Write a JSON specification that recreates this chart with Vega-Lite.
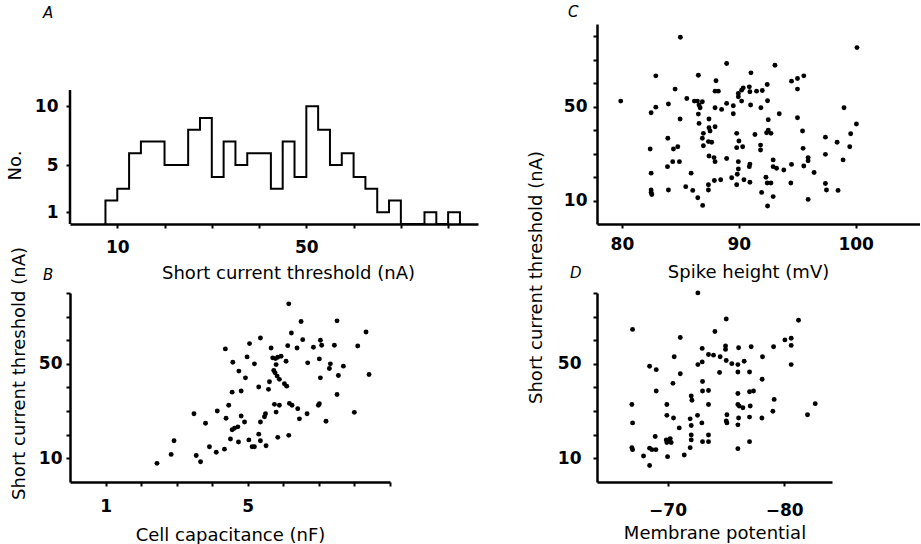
{
"$schema":"https://vega.github.io/schema/vega-lite/v6.json",
"background":"white",
"padding":{"left":6,"top":5,"right":0,"bottom":0},
"config":{
 "view":{"stroke":null},
 "font":"DejaVu Sans",
 "axis":{"domainColor":"black","domainWidth":2.5,"tickColor":"black","tickWidth":2,"tickSize":4,"labelColor":"black","labelFont":"DejaVu Sans","labelFontSize":17,"labelFontWeight":"bold","titleColor":"black","titleFont":"DejaVu Sans","titleFontSize":18,"titleFontWeight":"normal","grid":false,"labelOverlap":false,"labelFlush":false},
 "title":{"font":"DejaVu Sans","fontSize":15,"fontStyle":"italic","fontWeight":"normal","color":"black","anchor":"start","frame":"group","baseline":"alphabetic"}
},
"datasets":{
 "hist":[
  {"i":0,"edge":9.043,"count":0},{"i":1,"edge":9.043,"count":2},{"i":2,"edge":10,"count":3},{"i":3,"edge":11.058,"count":6},
  {"i":4,"edge":12.228,"count":7},{"i":5,"edge":14.953,"count":5},{"i":6,"edge":18.285,"count":8},{"i":7,"edge":20.22,"count":9},
  {"i":8,"edge":22.361,"count":4},{"i":9,"edge":24.727,"count":7},{"i":10,"edge":27.344,"count":5},{"i":11,"edge":30.238,"count":6},
  {"i":12,"edge":36.976,"count":3},{"i":13,"edge":40.889,"count":7},{"i":14,"edge":45.216,"count":4},{"i":15,"edge":50,"count":10},
  {"i":16,"edge":55.29,"count":8},{"i":17,"edge":61.14,"count":5},{"i":18,"edge":67.61,"count":6},{"i":19,"edge":74.77,"count":4},
  {"i":20,"edge":82.68,"count":3},{"i":21,"edge":91.43,"count":1},{"i":22,"edge":101.1,"count":2},{"i":23,"edge":111.8,"count":0},
  {"i":24,"edge":136.7,"count":1},{"i":25,"edge":151.2,"count":0},{"i":26,"edge":167.2,"count":1},{"i":27,"edge":184.9,"count":0}
 ],
 "c":[
  {"spike":79.9,"thr":55.1},{"spike":85.0,"thr":164.9},{"spike":82.9,"thr":85.0},{"spike":86.54,"thr":86.0},{"spike":88.96,"thr":105},
  {"spike":91.04,"thr":89.5},{"spike":88.05,"thr":78.1},{"spike":84.55,"thr":67.7},{"spike":85.55,"thr":57.7},{"spike":83.98,"thr":52.4},
  {"spike":82.5,"thr":45.1},{"spike":82.9,"thr":49.7},{"spike":86.2,"thr":55.1},{"spike":86.46,"thr":55.1},{"spike":86.88,"thr":54.5},
  {"spike":86.6,"thr":51.5},{"spike":86.69,"thr":49.2},{"spike":87.97,"thr":65.4},{"spike":88.25,"thr":65.4},{"spike":89.96,"thr":62.9},
  {"spike":90.24,"thr":66.5},{"spike":90.38,"thr":69.2},{"spike":89.96,"thr":59.4},{"spike":90.24,"thr":55.1},{"spike":90.9,"thr":70.4},
  {"spike":90.95,"thr":64.7},{"spike":91.52,"thr":65.4},{"spike":88.96,"thr":53.0},{"spike":88.53,"thr":47.8},{"spike":87.97,"thr":49.2},
  {"spike":89.53,"thr":50.9},{"spike":89.53,"thr":44.4},{"spike":91.01,"thr":51.5},{"spike":84.98,"thr":40.5},{"spike":86.54,"thr":44.1},
  {"spike":86.6,"thr":37.6},{"spike":87.45,"thr":40.5},{"spike":87.45,"thr":34.9},{"spike":87.54,"thr":33.0},{"spike":87.97,"thr":35.5},
  {"spike":86.97,"thr":31.7},{"spike":86.88,"thr":29.1},{"spike":86.97,"thr":25.6},{"spike":87.4,"thr":27.5},{"spike":87.68,"thr":27.2},
  {"spike":87.45,"thr":21.5},{"spike":87.88,"thr":20.9},{"spike":87.97,"thr":19.5},{"spike":88.96,"thr":20.6},{"spike":89.82,"thr":31.7},
  {"spike":90.01,"thr":27.8},{"spike":89.82,"thr":24.8},{"spike":90.33,"thr":25.2},{"spike":91.38,"thr":31.1},{"spike":82.42,"thr":24.2},
  {"spike":83.93,"thr":29.1},{"spike":84.41,"thr":24.2},{"spike":84.78,"thr":25.2},{"spike":84.35,"thr":19.5},{"spike":84.92,"thr":19.5},
  {"spike":83.9,"thr":17.9},{"spike":82.5,"thr":16.0},{"spike":85.92,"thr":16.0},{"spike":89.96,"thr":19.5},{"spike":89.96,"thr":17.2},
  {"spike":89.87,"thr":15.7},{"spike":89.82,"thr":13.1},{"spike":90.95,"thr":18.7},{"spike":90.9,"thr":17.9},{"spike":89.39,"thr":14.8},
  {"spike":90.44,"thr":14.3},{"spike":90.95,"thr":13.7},{"spike":87.91,"thr":14.1},{"spike":88.45,"thr":14.3},{"spike":87.4,"thr":13.1},
  {"spike":87.4,"thr":12.0},{"spike":85.46,"thr":12.7},{"spike":86.06,"thr":11.9},{"spike":86.49,"thr":10.5},{"spike":86.91,"thr":9.2},
  {"spike":82.5,"thr":12.0},{"spike":82.5,"thr":11.5},{"spike":82.56,"thr":11.1},{"spike":83.98,"thr":12.0},{"spike":100.11,"thr":138},
  {"spike":93.09,"thr":102},{"spike":94.51,"thr":77.6},{"spike":95.02,"thr":81.3},{"spike":95.56,"thr":85.0},{"spike":95.02,"thr":67.7},
  {"spike":92.43,"thr":73.3},{"spike":92.01,"thr":66.1},{"spike":92.46,"thr":55.4},{"spike":91.89,"thr":49.2},{"spike":93.46,"thr":44.4},
  {"spike":92.52,"thr":40.0},{"spike":92.52,"thr":33.5},{"spike":92.38,"thr":32.0},{"spike":92.75,"thr":31.7},{"spike":95.02,"thr":41.4},
  {"spike":95.45,"thr":33.0},{"spike":99.0,"thr":49.2},{"spike":100.06,"thr":37.2},{"spike":99.57,"thr":31.5},{"spike":97.41,"thr":29.7},
  {"spike":98.41,"thr":27.2},{"spike":99.49,"thr":25.2},{"spike":91.86,"thr":25.9},{"spike":91.86,"thr":23.8},{"spike":92.94,"thr":20.1},
  {"spike":92.94,"thr":17.9},{"spike":93.23,"thr":17.4},{"spike":93.85,"thr":16.9},{"spike":94.51,"thr":18.6},{"spike":95.5,"thr":24.5},
  {"spike":95.93,"thr":20.9},{"spike":95.93,"thr":19.8},{"spike":95.56,"thr":18.1},{"spike":96.44,"thr":16.2},{"spike":97.41,"thr":22.1},
  {"spike":98.92,"thr":20.1},{"spike":92.32,"thr":14.9},{"spike":92.43,"thr":13.5},{"spike":92.75,"thr":13.5},{"spike":94.45,"thr":13.5},
  {"spike":97.41,"thr":13.4},{"spike":97.5,"thr":12.0},{"spike":98.49,"thr":11.9},{"spike":91.95,"thr":11.5},{"spike":92.94,"thr":10.7},
  {"spike":95.93,"thr":10.2},{"spike":92.46,"thr":9.1}
 ],
 "b":[
  {"cap":7.95,"thr":139},{"cap":9.14,"thr":103},{"cap":13.73,"thr":104},{"cap":19.06,"thr":86.0},{"cap":8.19,"thr":84.6},
  {"cap":5.77,"thr":77.7},{"cap":9.31,"thr":75.5},{"cap":11.37,"thr":74.7},{"cap":11.54,"thr":68.6},{"cap":3.88,"thr":64.5},
  {"cap":5.10,"thr":70.6},{"cap":6.51,"thr":65.6},{"cap":7.86,"thr":68.2},{"cap":8.73,"thr":65.6},{"cap":10.51,"thr":66.3},
  {"cap":13.32,"thr":68.6},{"cap":17.35,"thr":67.8},{"cap":4.96,"thr":56.3},{"cap":6.63,"thr":55.4},{"cap":6.84,"thr":54.7},
  {"cap":7.02,"thr":56.0},{"cap":7.29,"thr":56.9},{"cap":6.89,"thr":49.4},{"cap":7.71,"thr":52.3},{"cap":4.22,"thr":51.4},
  {"cap":5.39,"thr":50.0},{"cap":9.85,"thr":50.9},{"cap":11.24,"thr":54.4},{"cap":12.73,"thr":50.0},{"cap":12.59,"thr":46.2},
  {"cap":14.75,"thr":48.1},{"cap":4.52,"thr":44.2},{"cap":6.71,"thr":44.7},{"cap":6.81,"thr":42.9},{"cap":6.97,"thr":40.6},
  {"cap":7.15,"thr":38.4},{"cap":4.87,"thr":39.4},{"cap":11.37,"thr":39.4},{"cap":13.94,"thr":41.0},{"cap":19.72,"thr":41.7},
  {"cap":7.57,"thr":35.6},{"cap":7.77,"thr":34.2},{"cap":6.39,"thr":36.9},{"cap":5.66,"thr":33.7},{"cap":6.32,"thr":32.4},
  {"cap":4.19,"thr":30.9},{"cap":4.64,"thr":31.5},{"cap":13.73,"thr":29.7},{"cap":4.03,"thr":24.7},{"cap":6.76,"thr":25.1},
  {"cap":7.15,"thr":24.7},{"cap":8.01,"thr":25.5},{"cap":8.25,"thr":24.7},{"cap":8.80,"thr":23.3},{"cap":11.24,"thr":25.4},
  {"cap":11.12,"thr":24.7},{"cap":2.72,"thr":21.4},{"cap":3.54,"thr":22.4},{"cap":3.91,"thr":19.8},{"cap":3.10,"thr":18.2},
  {"cap":4.64,"thr":20.6},{"cap":4.82,"thr":18.6},{"cap":6.11,"thr":21.4},{"cap":6.04,"thr":20.3},{"cap":5.77,"thr":18.6},
  {"cap":6.89,"thr":22.0},{"cap":8.97,"thr":19.6},{"cap":9.78,"thr":21.4},{"cap":12.12,"thr":18.8},{"cap":16.70,"thr":21.9},
  {"cap":4.19,"thr":16.3},{"cap":4.30,"thr":16.7},{"cap":4.47,"thr":17.1},{"cap":5.66,"thr":15.1},{"cap":2.17,"thr":13.5},
  {"cap":4.11,"thr":13.9},{"cap":4.50,"thr":13.2},{"cap":5.06,"thr":13.7},{"cap":5.25,"thr":12.2},{"cap":5.39,"thr":12.2},
  {"cap":5.77,"thr":13.5},{"cap":6.15,"thr":12.4},{"cap":7.02,"thr":14.3},{"cap":7.95,"thr":14.8},{"cap":3.24,"thr":12.2},
  {"cap":3.50,"thr":11.1},{"cap":3.84,"thr":11.7},{"cap":2.10,"thr":10.7},{"cap":2.79,"thr":10.5},{"cap":2.93,"thr":9.45},
  {"cap":1.79,"thr":9.19}
 ],
 "d":[
  {"vm":-72.6,"thr":167.5},{"vm":-67.0,"thr":89.9},{"vm":-75.03,"thr":107.5},{"vm":-81.23,"thr":105.0},{"vm":-71.09,"thr":78.3},
  {"vm":-74.06,"thr":86.8},{"vm":-80.06,"thr":75.2},{"vm":-80.6,"thr":77.4},{"vm":-80.6,"thr":68.5},{"vm":-79.09,"thr":67.0},
  {"vm":-70.57,"thr":56.4},{"vm":-72.97,"thr":65.1},{"vm":-74.97,"thr":67.8},{"vm":-74.97,"thr":64.0},{"vm":-76.09,"thr":65.8},
  {"vm":-77.17,"thr":67.0},{"vm":-73.51,"thr":58.7},{"vm":-73.94,"thr":58.0},{"vm":-74.51,"thr":56.4},{"vm":-75.03,"thr":52.9},
  {"vm":-75.51,"thr":50.2},{"vm":-76.03,"thr":49.4},{"vm":-76.57,"thr":52.3},{"vm":-78.14,"thr":56.4},{"vm":-80.6,"thr":49.4},
  {"vm":-72.6,"thr":49.4},{"vm":-72.97,"thr":51.7},{"vm":-68.46,"thr":48.0},{"vm":-69.03,"thr":45.3},{"vm":-71.09,"thr":42.3},
  {"vm":-74.46,"thr":43.2},{"vm":-76.03,"thr":43.5},{"vm":-77.03,"thr":43.5},{"vm":-70.46,"thr":35.9},{"vm":-73.0,"thr":37.0},
  {"vm":-78.11,"thr":38.5},{"vm":-69.03,"thr":31.5},{"vm":-72.03,"thr":28.9},{"vm":-72.09,"thr":26.9},{"vm":-73.0,"thr":31.5},
  {"vm":-73.51,"thr":31.8},{"vm":-76.03,"thr":30.2},{"vm":-77.03,"thr":31.1},{"vm":-77.37,"thr":31.5},{"vm":-66.94,"thr":25.0},
  {"vm":-69.94,"thr":25.0},{"vm":-73.51,"thr":25.0},{"vm":-76.03,"thr":25.0},{"vm":-76.14,"thr":24.4},{"vm":-76.46,"thr":23.7},
  {"vm":-77.09,"thr":24.4},{"vm":-79.14,"thr":27.3},{"vm":-79.03,"thr":22.3},{"vm":-82.66,"thr":25.4},{"vm":-82.0,"thr":21.0},
  {"vm":-69.94,"thr":20.8},{"vm":-70.51,"thr":19.9},{"vm":-72.57,"thr":20.8},{"vm":-71.94,"thr":19.6},{"vm":-72.03,"thr":17.5},
  {"vm":-72.94,"thr":18.3},{"vm":-75.09,"thr":21.0},{"vm":-75.09,"thr":18.3},{"vm":-75.03,"thr":18.9},{"vm":-76.09,"thr":19.9},
  {"vm":-76.03,"thr":17.7},{"vm":-77.03,"thr":20.2},{"vm":-78.09,"thr":19.9},{"vm":-67.0,"thr":18.3},{"vm":-71.0,"thr":16.8},
  {"vm":-68.94,"thr":14.5},{"vm":-69.94,"thr":13.1},{"vm":-70.09,"thr":13.7},{"vm":-70.23,"thr":14.0},{"vm":-69.89,"thr":13.7},
  {"vm":-70.31,"thr":13.1},{"vm":-72.03,"thr":14.9},{"vm":-72.03,"thr":13.7},{"vm":-71.94,"thr":12.0},{"vm":-73.0,"thr":13.3},
  {"vm":-73.51,"thr":13.3},{"vm":-73.51,"thr":14.9},{"vm":-77.03,"thr":13.3},{"vm":-66.94,"thr":12.0},{"vm":-67.0,"thr":11.6},
  {"vm":-68.46,"thr":11.9},{"vm":-68.66,"thr":11.6},{"vm":-69.0,"thr":11.6},{"vm":-67.94,"thr":10.4},{"vm":-70.0,"thr":10.3},
  {"vm":-71.43,"thr":10.6},{"vm":-76.03,"thr":11.8},{"vm":-68.46,"thr":8.86}
 ]
},
"bounds":"flush",
"columns":2,
"spacing":{"row":69,"column":119},
"concat":[
  {"width":408,"height":200,
   "title":{"text":"A","dx":-27,"offset":3},
   "layer":[
    {"data":{"name":"hist"},
     "mark":{"type":"line","interpolate":"step-after","color":"black","strokeWidth":2},
     "encoding":{
      "x":{"field":"edge","type":"quantitative","scale":{"type":"log","domain":[6.687,215.6],"nice":false},
           "axis":{"values":[10,14.953,22.361,33.437,50,74.767,111.8,167.18],"labelExpr":"datum.value == 10 ? '10' : datum.value == 50 ? '50' : ''",
                   "labelBaseline":"alphabetic","labelPadding":24,"title":"Short current threshold (nA)","titleX":218,"titleY":54,"titleBaseline":"alphabetic"}},
      "y":{"field":"count","type":"quantitative","scale":{"domain":[0,16.98],"nice":false,"zero":true},
           "axis":{"values":[1,5,10],"domain":false,"labelPadding":8,"title":"No.","titleX":-50,"titleY":141,"titleBaseline":"alphabetic"}},
      "order":{"field":"i","type":"quantitative"}
     }},
    {"data":{"values":[{}]},
     "mark":{"type":"rule","color":"black","strokeWidth":2.5},
     "encoding":{"x":{"datum":6.687,"type":"quantitative"},"y":{"datum":0,"type":"quantitative"},"y2":{"datum":11.37}}}
   ]},
  {"width":323,"height":200,
   "title":{"text":"C","dx":-29,"offset":3.6},
   "data":{"name":"c"},
   "mark":{"type":"circle","color":"black","size":24,"opacity":1},
   "encoding":{
    "x":{"field":"spike","type":"quantitative","scale":{"domain":[77.87,105.5],"nice":false,"zero":false},
         "axis":{"values":[80,90,100],"labelBaseline":"alphabetic","labelPadding":21.5,"title":"Spike height (mV)","titleX":151,"titleY":53,"titleBaseline":"alphabetic"}},
    "y":{"field":"thr","type":"quantitative","scale":{"type":"log","domain":[6.687,207],"nice":false},
         "axis":{"values":[10,14.953,22.361,33.437,50,74.767,111.8,167.18],"labelExpr":"datum.value == 10 ? '10' : datum.value == 50 ? '50' : ''","labelPadding":6,"title":null}}
   }},
  {"width":320,"height":189,
   "title":{"text":"B","dx":-27,"offset":-36},
   "data":{"name":"b"},
   "mark":{"type":"circle","color":"black","size":24,"opacity":1},
   "encoding":{
    "x":{"field":"cap","type":"quantitative","scale":{"type":"log","domain":[0.6687,25],"nice":false},
         "axis":{"values":[1,1.4953,2.2361,3.3437,5,7.4767,11.18,16.718,25],"labelExpr":"datum.value == 1 ? '1' : datum.value == 5 ? '5' : ''","labelBaseline":"alphabetic","labelPadding":25.7,"title":"Cell capacitance (nF)","titleY":58,"titleBaseline":"alphabetic"}},
    "y":{"field":"thr","type":"quantitative","scale":{"type":"log","domain":[6.687,167.18],"nice":false},
         "axis":{"values":[10,14.953,22.361,33.437,50,74.767,111.8,167.18],"labelExpr":"datum.value == 10 ? '10' : datum.value == 50 ? '50' : ''","labelPadding":4,"title":"Short current threshold (nA)","titleX":-46,"titleY":80,"titleBaseline":"alphabetic"}}
   }},
  {"width":235,"height":189,
   "title":{"text":"D","dx":-27,"offset":-130},
   "data":{"name":"d"},
   "mark":{"type":"circle","color":"black","size":24,"opacity":1},
   "encoding":{
    "x":{"field":"vm","type":"quantitative","scale":{"domain":[-84.1,-63.95],"reverse":true,"nice":false,"zero":false},
         "axis":{"values":[-70,-80],"labelBaseline":"alphabetic","labelPadding":29,"title":"Membrane potential","titleY":56,"titleBaseline":"alphabetic"}},
    "y":{"field":"thr","type":"quantitative","scale":{"type":"log","domain":[6.687,167.18],"nice":false},
         "axis":{"values":[10,14.953,22.361,33.437,50,74.767,111.8,167.18],"labelExpr":"datum.value == 10 ? '10' : datum.value == 50 ? '50' : ''","labelPadding":12,"title":"Short current threshold (nA)","titleX":-56,"titleY":-16,"titleBaseline":"alphabetic"}}
   }}
]
}
